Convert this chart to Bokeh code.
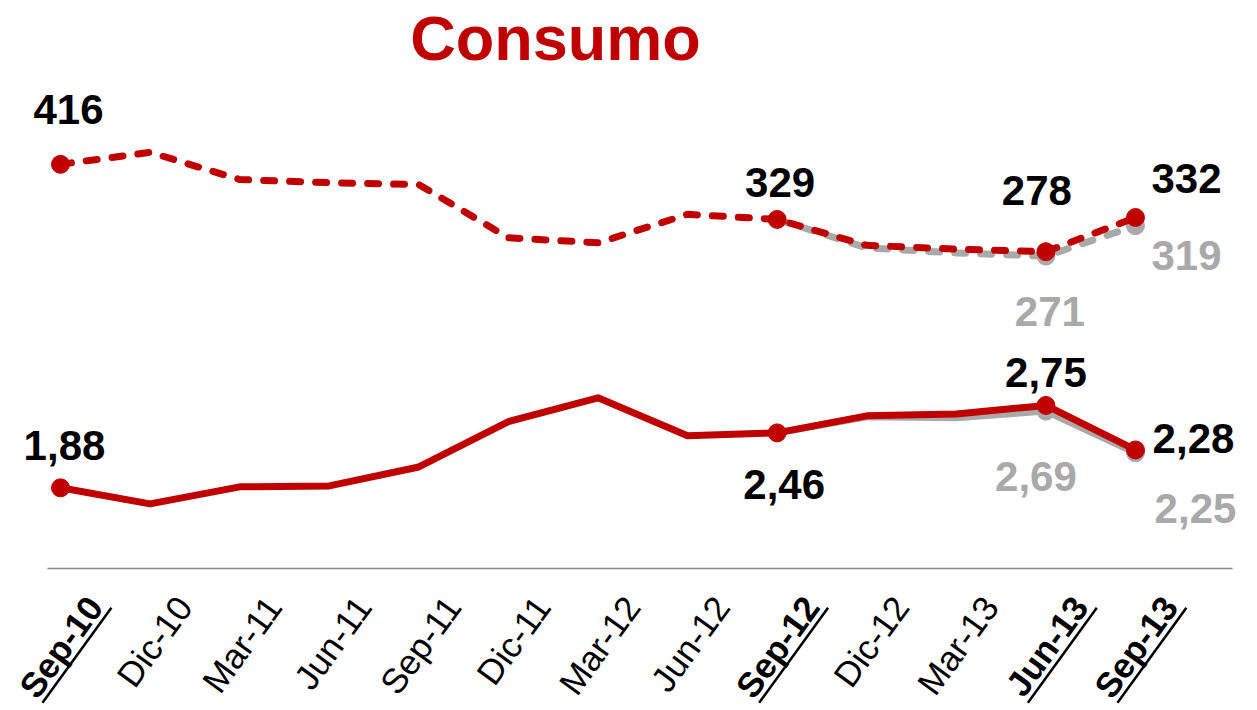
import math
from bokeh.plotting import figure
from bokeh.models import Range1d, LinearAxis, FixedTicker, ColumnDataSource
from bokeh.core.properties import value
from bokeh.embed import file_html
from bokeh.resources import INLINE

# ---------------- data ----------------
categories = ["Sep-10", "Dic-10", "Mar-11", "Jun-11", "Sep-11", "Dic-11", "Mar-12",
              "Jun-12", "Sep-12", "Dic-12", "Mar-13", "Jun-13", "Sep-13"]
highlight = ["Sep-10", "Sep-12", "Jun-13", "Sep-13"]

upper_red = [416, 435, 392, 387, 384, 300, 292, 337, 329, 288, 282, 278, 332]
gray_cats = ["Sep-12", "Dic-12", "Mar-13", "Jun-13", "Sep-13"]
upper_gray = [329, 284, 276, 271, 319]

lower_red = [1.88, 1.71, 1.89, 1.90, 2.10, 2.58, 2.83, 2.43, 2.46, 2.64, 2.66, 2.75, 2.28]
lower_gray = [2.46, 2.63, 2.62, 2.69, 2.25]

red_label_cats = ["Sep-10", "Sep-12", "Jun-13", "Sep-13"]
gray_label_cats = ["Jun-13", "Sep-13"]

title_text = "Consumo"

# ---------------- style ----------------
RED = "#c00000"
GRAY = "#a9a9a9"
W, H = 1257, 710
BORDER_L, BORDER_R, BORDER_T, BORDER_B = 47, 25, 8, 142
FRAME_W = W - BORDER_L - BORDER_R
FRAME_H = H - BORDER_T - BORDER_B
X_START, X_END = -0.145, 13.083
LOW_START, LOW_END = 1.028, 6.941
UP_START, UP_END = -222.5, 662.2

LABEL_FONT = value("Liberation Sans")
AX_FONT = value("Liberation Sans")

idx = {c: i for i, c in enumerate(categories)}

p = figure(width=W, height=H, output_backend="svg", toolbar_location=None,
           x_axis_type=None, y_axis_type=None,
           x_range=Range1d(X_START, X_END), y_range=Range1d(LOW_START, LOW_END),
           min_border_left=BORDER_L, min_border_right=BORDER_R,
           min_border_top=BORDER_T, min_border_bottom=BORDER_B,
           background_fill_color="white", border_fill_color="white",
           outline_line_color=None)
# "upper" scale for the dashed series; "px" ranges measured in pixels from frame top-left
p.extra_y_ranges = {"upper": Range1d(UP_START, UP_END), "px": Range1d(FRAME_H, 0)}
p.extra_x_ranges = {"px": Range1d(0, FRAME_W)}
p.grid.visible = False

xaxis = LinearAxis(ticker=FixedTicker(ticks=[]), axis_line_color="#8a8a8a",
                   axis_line_width=1.5, major_tick_line_color=None,
                   minor_tick_line_color=None, major_label_text_font_size="0px")
p.add_layout(xaxis, "below")

xs = list(range(len(categories)))
gx = [idx[c] for c in gray_cats]

# gray (under) lines
p.line(gx, upper_gray, y_range_name="upper", line_color=GRAY, line_width=7,
       line_dash="11 15", line_cap="round", line_join="round")
p.line(gx, lower_gray, line_color=GRAY, line_width=7, line_join="round", line_cap="round")
g_mark = [idx[c] for c in gray_label_cats]
p.scatter(g_mark, [upper_gray[gray_cats.index(c)] for c in gray_label_cats],
          y_range_name="upper", size=18, color=GRAY)
p.scatter(g_mark, [lower_gray[gray_cats.index(c)] for c in gray_label_cats],
          size=18, color=GRAY)

# red lines
p.line(xs, upper_red, y_range_name="upper", line_color=RED, line_width=7,
       line_dash="11 15", line_cap="round", line_join="round")
p.line(xs, lower_red, line_color=RED, line_width=7, line_join="round", line_cap="round")
r_mark = [idx[c] for c in red_label_cats]
p.scatter(r_mark, [upper_red[i] for i in r_mark], y_range_name="upper", size=18, color=RED)
p.scatter(r_mark, [lower_red[i] for i in r_mark], size=18, color=RED)

# ---------------- data labels ----------------
def fmt_up(v):
    return str(int(v))

def fmt_low(v):
    return f"{v:.2f}".replace(".", ",")

# label offsets (px) relative to the point
up_red_off = {"Sep-10": (8, -55), "Sep-12": (3, -37), "Jun-13": (-9, -61), "Sep-13": (51, -39)}
up_gray_off = {"Jun-13": (4, 55), "Sep-13": (51, 30)}
low_red_off = {"Sep-10": (4, -42), "Sep-12": (7, 52), "Jun-13": (0, -33), "Sep-13": (58, -11)}
low_gray_off = {"Jun-13": (-10, 65), "Sep-13": (60, 56)}

def add_labels(cats, vals, fmt, offs, color, yname=None):
    src = ColumnDataSource(dict(
        x=[idx[c] for c in cats], y=vals, t=[fmt(v) for v in vals],
        dx=[offs[c][0] for c in cats], dy=[offs[c][1] for c in cats]))
    kw = dict(y_range_name=yname) if yname else {}
    p.text(x="x", y="y", text="t", x_offset="dx", y_offset="dy", source=src,
           text_font=LABEL_FONT, text_font_style="bold", text_font_size="42px",
           text_color=color, text_align="center", text_baseline="middle",
           level="annotation", **kw)

add_labels(red_label_cats, [upper_red[idx[c]] for c in red_label_cats], fmt_up, up_red_off, "#000000", "upper")
add_labels(gray_label_cats, [upper_gray[gray_cats.index(c)] for c in gray_label_cats], fmt_up, up_gray_off, GRAY, "upper")
add_labels(red_label_cats, [lower_red[idx[c]] for c in red_label_cats], fmt_low, low_red_off, "#000000")
add_labels(gray_label_cats, [lower_gray[gray_cats.index(c)] for c in gray_label_cats], fmt_low, low_gray_off, GRAY)

# ---------------- category labels (rotated) ----------------
ANG = math.radians(54)
AX_DX, AX_DY = 34, 32
FS = 35
normal = [c for c in categories if c not in highlight]
bold = [c for c in categories if c in highlight]
for group, style in ((normal, "normal"), (bold, "bold")):
    p.text(x=[idx[c] for c in group], y=[LOW_START] * len(group), text=group,
           x_offset=AX_DX, y_offset=AX_DY, angle=ANG,
           text_font=AX_FONT, text_font_style=style, text_font_size=f"{FS}px",
           text_color="#000000", text_align="right", text_baseline="middle",
           level="annotation")

# underline for highlighted categories
px_per_x = FRAME_W / (X_END - X_START)
px_per_y = FRAME_H / (LOW_END - LOW_START)
dirx, diry = math.cos(ANG), -math.sin(ANG)       # along text (screen, y down)
perx, pery = math.sin(ANG), math.cos(ANG)        # below text
UL_D, UL_E, UL_L = 18, 4, 3.35 * FS
x0s, y0s, x1s, y1s = [], [], [], []
for c in bold:
    ex = AX_DX + UL_D * perx + UL_E * dirx
    ey = AX_DY + UL_D * pery + UL_E * diry
    sx_, sy_ = ex - UL_L * dirx, ey - UL_L * diry
    x0s.append(idx[c] + ex / px_per_x); y0s.append(LOW_START - ey / px_per_y)
    x1s.append(idx[c] + sx_ / px_per_x); y1s.append(LOW_START - sy_ / px_per_y)
p.segment(x0s, y0s, x1s, y1s, line_color="#000000", line_width=2.5, level="annotation")

# ---------------- title ----------------
p.text(x=[555 - BORDER_L], y=[37 - BORDER_T], text=[title_text],
       x_range_name="px", y_range_name="px",
       text_font=value("Liberation Sans"), text_font_style="bold",
       text_font_size="63px", text_color=RED, text_align="center",
       text_baseline="middle", level="annotation")

open("out.html", "w").write(file_html(p, INLINE))
